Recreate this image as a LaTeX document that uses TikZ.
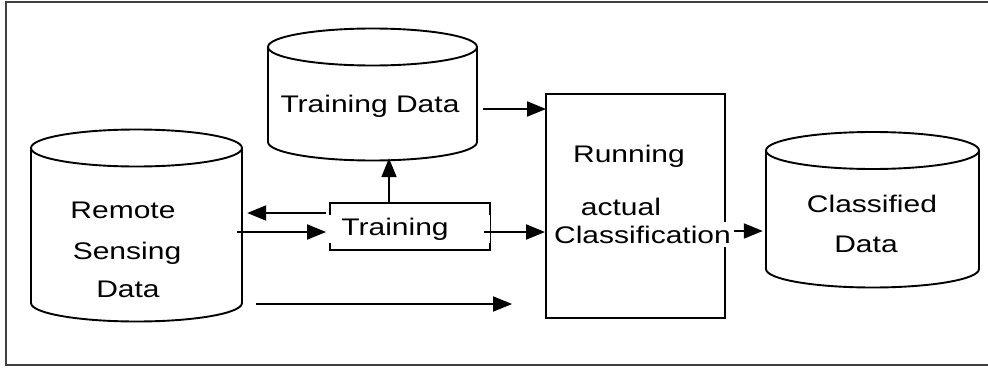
\documentclass[tikz,border=0pt]{standalone}
\usepackage{fontspec}
\setmainfont[FakeStretch=1.25]{Liberation Sans}
\usetikzlibrary{arrows.meta}
\newcommand\cylshape[5]{% cx, top-centre y, bottom-centre y, half width, ry
  \draw[line] (#1-#4,#2) -- (#1-#4,#3)
     arc[start angle=180,end angle=360,x radius=#4pt,y radius=#5pt] -- (#1+#4,#2);
  \draw[line] (#1,#2) ellipse[x radius=#4pt,y radius=#5pt];
}
\begin{document}
\begin{tikzpicture}[x=1pt,y=1pt,
  line/.style={line width=1.9pt,black},
  arr/.style={line width=1.9pt,black,-{Triangle[length=19pt,width=15pt]}},
  lbl/.style={font=\fontsize{24}{28}\selectfont,inner sep=0pt,anchor=base},
  hold/.style={draw=none,inner sep=0pt,minimum width=#1},
  boxn/.style={line,draw,inner sep=0pt}]
\useasboundingbox (0,0) rectangle (988,368);
\draw[line width=2.2pt,black!75] (6,366) rectangle (994,3);

% cylinders (named holders)
\node[hold=211pt,minimum height=155pt] (rs) at (136.5,142.5) {};
\cylshape{136.5}{220}{65}{105.5}{18.5}
\node[hold=209pt,minimum height=95pt] (td) at (372.5,273.5) {};
\cylshape{372.5}{321}{226}{104.5}{18.5}
\node[hold=213pt,minimum height=118.5pt] (cd) at (872.5,158.25) {};
\cylshape{872.5}{217.5}{99}{106.5}{18.5}

% boxes
\node[boxn,minimum width=160pt,minimum height=47pt] (tr) at (410,141.5) {};
\node[boxn,minimum width=179pt,minimum height=224pt] (run) at (635.5,162) {};

% texts
\node[lbl] (t1) at (123,150) {Remote};
\node[lbl] (t2) at (127,109) {Sensing};
\node[lbl] (t3) at (128,71) {Data};
\node[lbl] (t4) at (370,256) {Training Data};
\node[lbl,fill=white,minimum width=190pt,inner ysep=3pt] (t5) at (395,133) {Training};
\node[lbl] (t6) at (629,206) {Running};
\node[lbl] (t7) at (621,153) {actual};
\node[lbl,fill=white,inner xsep=2pt,inner ysep=4pt] (t8) at (642.5,125) {Classification};
\node[lbl] (t9) at (872,156) {Classified};
\node[lbl] (t10) at (866,116) {Data};

% rows for connectors
\coordinate (r155) at (0,155);
\coordinate (r136) at (0,136);
\coordinate (r137) at (0,137);
\coordinate (r259) at (0,259);
\coordinate (r64) at (0,64);

\draw[arr] ([xshift=-3pt]tr.west |- r155) -- ([xshift=5pt]rs.east |- r155);
\draw[arr] ([xshift=-5pt]rs.east |- r136) -- ([xshift=-3pt]tr.west |- r136);
\draw[arr] ([xshift=-7pt]tr.east |- r136) -- (run.west |- r136);
\draw[arr] ([xshift=8pt]run.east |- r137) -- ([xshift=-3pt]cd.west |- r137);
\draw[arr] ([xshift=6pt]td.east |- r259) -- ([xshift=1pt]run.west |- r259);
\draw[arr] ([xshift=14pt]rs.east |- r64) -- ([xshift=-33pt]run.west |- r64);
\draw[arr] ([xshift=-21pt]tr.north) -- ([xshift=16.5pt,yshift=-16pt]td.south);
\end{tikzpicture}
\end{document}
